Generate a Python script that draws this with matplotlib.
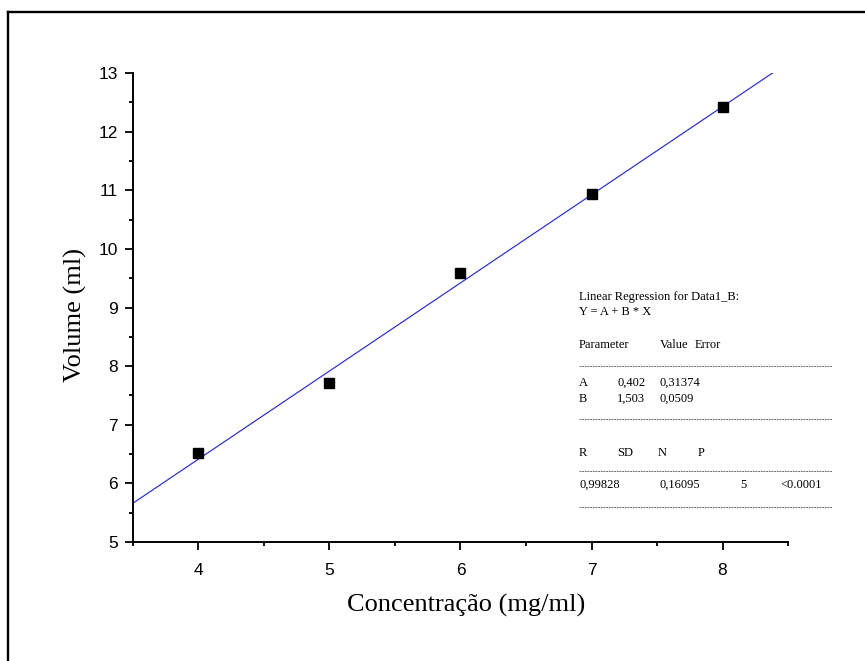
import numpy as np
import matplotlib
matplotlib.use("Agg")
import matplotlib.pyplot as plt
from matplotlib.lines import Line2D
from matplotlib.ticker import MultipleLocator

# data
conc = [4, 5, 6, 7, 8]
volume = [6.52, 7.71, 9.59, 10.94, 12.42]

# regression result printed in the box
fit_A = 0.402
fit_B = 1.503
fit_A_err = "0,31374"
fit_B_err = "0,0509"
fit_R = "0,99828"
fit_SD = "0,16095"
fit_N = "5"
fit_P = "<0.0001"

W, H = 865, 661
fig = plt.figure(figsize=(W / 100, H / 100), dpi=100)


def fx(px):
    return px / W


def fy(py):
    return 1 - py / H


# outer frame (left + top, as in the reference)
fig.add_artist(Line2D([fx(8), fx(8)], [fy(12), 0], color="black", lw=1.7))
fig.add_artist(Line2D([fx(8), 1], [fy(12), fy(12)], color="black", lw=1.7))

ax = fig.add_axes([fx(133), fy(542), fx(788) - fx(133), fy(73) - fy(542)])

xs = np.array([3.5, 8.5])
ax.plot(xs, fit_A + fit_B * xs, color="#1a1aff", lw=0.8, zorder=2)
ax.plot(conc, volume, linestyle="none", marker="s", markersize=7.5,
        color="black", zorder=3)

ax.set_xlim(3.5, 8.5)
ax.set_ylim(5, 13)
ax.xaxis.set_major_locator(MultipleLocator(1))
ax.xaxis.set_minor_locator(MultipleLocator(0.5))
ax.yaxis.set_major_locator(MultipleLocator(1))
ax.yaxis.set_minor_locator(MultipleLocator(0.5))

for side in ["top", "right"]:
    ax.spines[side].set_visible(False)
for side in ["left", "bottom"]:
    ax.spines[side].set_linewidth(1.4)

ax.tick_params(which="major", direction="out", length=6, width=1.3)
ax.tick_params(which="minor", direction="out", length=3, width=1.3)
ax.tick_params(axis="x", which="major", pad=9)
ax.tick_params(axis="y", which="major", pad=5)
for lab in ax.get_xticklabels() + ax.get_yticklabels():
    lab.set_fontfamily("Liberation Sans")
    lab.set_fontsize(12.5)

ax.set_xlabel("Concentração (mg/ml)", family="Liberation Serif", fontsize=19,
              va="center")
ax.set_ylabel("Volume (ml)", family="Liberation Serif", fontsize=19,
              va="center")
ax.xaxis.set_label_coords((466 - 133) / 655, (542 - 605) / 469)
ax.yaxis.set_label_coords((75 - 133) / 655, (542 - 315) / 469)

# regression box
tkw = dict(family="Liberation Serif", fontsize=9, va="center", ha="left")


def put(px, py, s):
    fig.text(fx(px), fy(py), s, **tkw)


def dashes(py):
    fig.add_artist(Line2D([fx(579), fx(832)], [fy(py), fy(py)], color="#555555",
                          lw=0.6, linestyle=(0, (2.2, 1.0))))


put(579, 297, "Linear Regression for Data1_B:")
put(579, 312, "Y = A + B * X")
put(579, 345, "Parameter")
put(660, 345, "Value")
put(695, 345, "Error")
dashes(366)
put(579, 383, "A")
put(617, 383, f"{fit_A:.3f}".replace(".", ","))
put(659, 383, fit_A_err)
put(579, 399, "B")
put(617, 399, f"{fit_B:.3f}".replace(".", ","))
put(659, 399, fit_B_err)
dashes(419)
put(579, 453, "R")
put(617, 453, "SD")
put(658, 453, "N")
put(698, 453, "P")
dashes(471)
put(579, 485, fit_R)
put(659, 485, fit_SD)
put(740, 485, fit_N)
put(780, 485, fit_P)
dashes(507)

fig.savefig("out.png", dpi=100)
